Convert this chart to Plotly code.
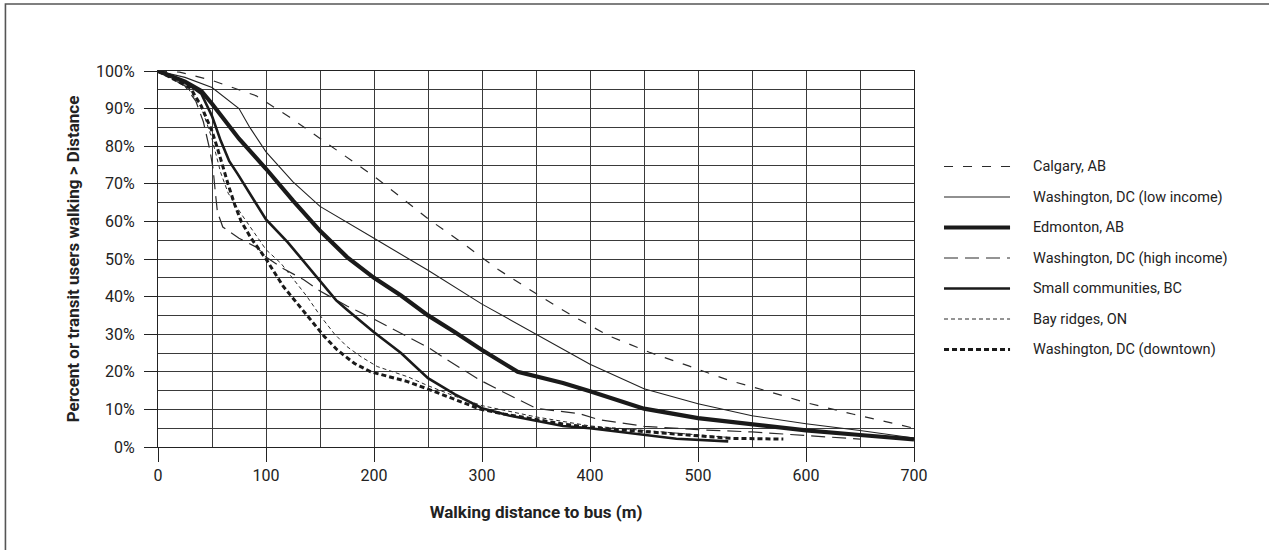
import plotly.graph_objects as go

# ---------------- data ----------------
series_names = [
    "Calgary, AB",
    "Washington, DC (low income)",
    "Edmonton, AB",
    "Washington, DC (high income)",
    "Small communities, BC",
    "Bay ridges, ON",
    "Washington, DC (downtown)",
]

calgary_x = [0, 20, 50, 91, 122, 150, 183, 200, 229, 250, 284, 315, 350, 383, 418, 455, 492, 529, 565, 600, 644, 684, 700]
calgary_y = [100, 99.7, 97.5, 93.4, 87.7, 82, 75.3, 72, 65.5, 60.7, 53.8, 47.2, 40.8, 35, 29.5, 25.2, 21.5, 17.7, 14.8, 11.8, 8.7, 6.2, 5]

low_x = [0, 25, 50, 75, 85, 100, 125, 150, 200, 250, 300, 350, 400, 450, 500, 550, 600, 650, 700]
low_y = [100, 98.3, 95.6, 90, 85, 78.5, 70.5, 64, 55.5, 47, 38, 30, 22, 15.5, 11.5, 8.3, 6.2, 4.4, 2.4]

edm_x = [0, 25, 40, 50, 75, 100, 125, 150, 175, 200, 225, 250, 275, 300, 333, 375, 400, 450, 500, 550, 600, 650, 700]
edm_y = [100, 97.2, 94.7, 91.3, 82, 74, 65.5, 57.5, 50.5, 45, 40.3, 35, 30.5, 25.8, 20, 17, 14.8, 10.2, 7.7, 6, 4.4, 3.2, 2]

high_x = [0, 25, 35, 42, 48, 51, 53, 55, 60, 75, 92, 100, 115, 135, 150, 175, 200, 230, 250, 266, 298, 317, 350, 391, 408, 450, 500, 550, 600, 650]
high_y = [100, 96, 92, 86.5, 79, 74, 68, 62.5, 58.5, 55.5, 53, 50.5, 47.6, 44.5, 41.5, 37.5, 34, 29.5, 26.5, 23.5, 17.8, 15, 10.3, 8.8, 7.3, 5.5, 4.6, 4, 3, 2.1]

small_x = [0, 25, 40, 50, 58, 66, 74, 90, 100, 120, 150, 165, 175, 200, 225, 250, 275, 300, 325, 350, 375, 400, 450, 480, 528]
small_y = [100, 97, 94, 88, 81.5, 76, 72.5, 65, 60.5, 54.5, 44, 39, 36.5, 30.5, 25, 18.3, 14, 10.3, 8.4, 7, 5.6, 5, 3.3, 2.2, 1.5]

bay_x = [0, 25, 40, 50, 58, 65, 77, 89, 100, 114, 126, 138, 150, 163, 175, 188, 203, 231, 250, 275, 300, 350, 400, 450, 500, 530]
bay_y = [100, 96.5, 90.5, 82, 73, 67.5, 62, 57, 52.5, 48.8, 44.5, 40, 35, 30.2, 26.7, 24, 21.4, 18.7, 16.3, 13.5, 11, 8, 5.6, 4.4, 3.2, 2.5]

down_x = [0, 30, 40, 50, 55, 60, 65, 71, 77, 86, 100, 116, 129, 141, 154, 166, 182, 197, 213, 231, 250, 274, 298, 320, 348, 375, 400, 450, 500, 530, 579]
down_y = [100, 95.5, 90.7, 84, 79.5, 74.5, 69.8, 64.5, 60, 55.6, 50, 42.7, 38.2, 33.8, 29.4, 25.8, 22.2, 20, 18.7, 17.4, 15.4, 12.8, 10.1, 8.8, 7.5, 6.1, 5.2, 4.2, 3, 2.3, 2.1]

x_ticks = [0, 100, 200, 300, 400, 500, 600, 700]
x_tick_labels = ["0", "100", "200", "300", "400", "500", "600", "700"]
y_ticks = [0, 10, 20, 30, 40, 50, 60, 70, 80, 90, 100]
y_tick_labels = ["0%", "10%", "20%", "30%", "40%", "50%", "60%", "70%", "80%", "90%", "100%"]

x_title = "Walking distance to bus (m)"
y_title = "Percent or transit users walking > Distance"

# ---------------- styles ----------------
styles = [
    dict(color="#2a2a2a", width=1.2, dash="9px,10px"),
    dict(color="#222222", width=1.1, dash="solid"),
    dict(color="#1a1a1a", width=4.2, dash="solid"),
    dict(color="#2a2a2a", width=1.2, dash="14px,7px"),
    dict(color="#1a1a1a", width=2.6, dash="solid"),
    dict(color="#2a2a2a", width=1.0, dash="4px,3px"),
    dict(color="#1a1a1a", width=3.0, dash="5px,3px"),
]
series_data = [
    (calgary_x, calgary_y),
    (low_x, low_y),
    (edm_x, edm_y),
    (high_x, high_y),
    (small_x, small_y),
    (bay_x, bay_y),
    (down_x, down_y),
]

W, H = 1269, 550
L, R = 158.3, 914.0       # plot area pixel edges
T, B = 71.0, 447.0
FONT = "Roboto, Liberation Sans, sans-serif"

fig = go.Figure()
for (xs, ys), name, st in zip(series_data, series_names, styles):
    fig.add_trace(go.Scatter(x=xs, y=ys, mode="lines", name=name,
                             line=dict(color=st["color"], width=st["width"], dash=st["dash"]),
                             showlegend=False, hoverinfo="skip"))

def px_to_paper_x(px):
    return (px - L) / (R - L)

def px_to_paper_y(py):
    return (B - py) / (B - T)

shapes = []
annotations = []
# manual legend
leg_y0, leg_step = 166.5, 30.5
for i, (name, st) in enumerate(zip(series_names, styles)):
    yy = px_to_paper_y(leg_y0 + i * leg_step)
    shapes.append(dict(type="line", xref="paper", yref="paper",
                       x0=px_to_paper_x(944), x1=px_to_paper_x(1010), y0=yy, y1=yy,
                       line=dict(color=st["color"], width=st["width"], dash=st["dash"])))
    annotations.append(dict(text=name, xref="paper", yref="paper",
                            x=px_to_paper_x(1031), y=yy, xanchor="left", yanchor="middle",
                            showarrow=False, font=dict(family=FONT, size=14.5, color="#222")))

# outer frame
shapes.append(dict(type="rect", xref="paper", yref="paper", layer="below",
                   x0=px_to_paper_x(5.8), x1=px_to_paper_x(W + 10),
                   y0=px_to_paper_y(H + 10), y1=px_to_paper_y(4),
                   line=dict(color="#555", width=1.6), fillcolor="rgba(0,0,0,0)"))

grid_col = "#3a3a3a"
fig.update_layout(
    width=W, height=H,
    margin=dict(l=L, r=W - R, t=T, b=H - B, pad=0),
    paper_bgcolor="white", plot_bgcolor="white",
    font=dict(family=FONT, size=16, color="#222"),
    shapes=shapes, annotations=annotations,
    showlegend=False,
)
fig.update_xaxes(
    range=[0, 700], tickvals=x_ticks, ticktext=x_tick_labels,
    ticks="outside", ticklen=14, tickwidth=1, tickcolor="#222",
    showgrid=True, gridcolor=grid_col, gridwidth=1,
    minor=dict(dtick=50, showgrid=True, gridcolor=grid_col, gridwidth=1, ticks=""),
    showline=True, linecolor="#222", linewidth=1.2, mirror=True,
    zeroline=False, tickfont=dict(size=16, family=FONT),
    title=dict(text="<b>" + x_title + "</b>", font=dict(size=17, family=FONT), standoff=21),
)
fig.update_yaxes(
    range=[0, 100], tickvals=y_ticks, ticktext=y_tick_labels,
    ticks="outside", ticklen=13, tickwidth=1, tickcolor="#222",
    showgrid=True, gridcolor=grid_col, gridwidth=1,
    minor=dict(dtick=5, showgrid=True, gridcolor=grid_col, gridwidth=1, ticks=""),
    showline=True, linecolor="#222", linewidth=1.2, mirror=True,
    zeroline=False, tickfont=dict(size=16, family=FONT), ticklabelstandoff=6,
    title=dict(text="<b>" + y_title + "</b>", font=dict(size=17, family=FONT), standoff=12),
)

fig.write_html("out.html", config={"displayModeBar": False},
               post_script="document.body.style.margin='0px';")
